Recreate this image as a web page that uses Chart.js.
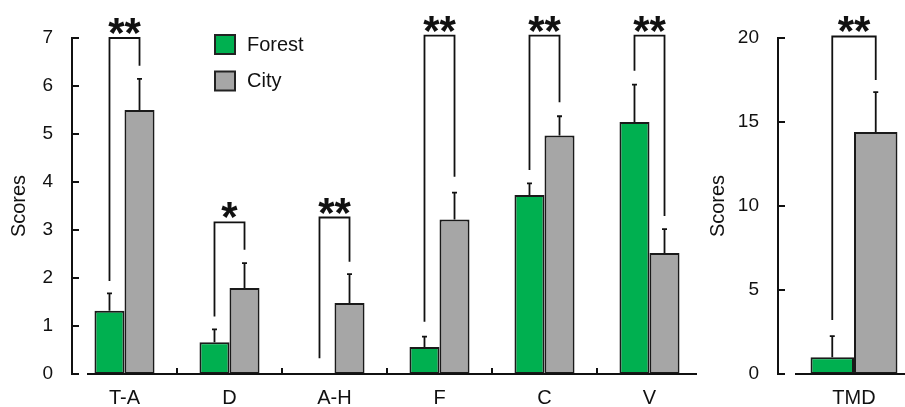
<!DOCTYPE html>
<html><head><meta charset="utf-8">
<script src="https://cdn.jsdelivr.net/npm/chart.js@4.4.0/dist/chart.umd.min.js"></script>
<style>
html,body{margin:0;padding:0;background:#fff;overflow:hidden;}
#wrap{position:relative;width:905px;height:407px;overflow:hidden;background:#fff;}
canvas{position:absolute;top:0;}
</style></head><body>
<div id="wrap">
<canvas id="c1" width="705" height="407" style="left:0px;width:705px;height:407px"></canvas>
<canvas id="c2" width="230" height="407" style="left:700px;width:230px;height:407px"></canvas>
</div>
<script>
// ---- Data (left panel) ----
const categories = ['T-A', 'D', 'A-H', 'F', 'C', 'V'];
const forestValues = [1.32, 0.66, 0, 0.56, 3.73, 5.25];
const forestErrors = [0.36, 0.27, 0, 0.22, 0.24, 0.78];
const cityValues = [5.50, 1.79, 1.48, 3.22, 4.97, 2.52];
const cityErrors = [0.65, 0.52, 0.60, 0.56, 0.40, 0.50];
const sigLabels = ['**', '*', '**', '**', '**', '**'];
const bracketTop = [7.0, 3.16, 3.26, 7.05, 7.05, 7.05];
const bracketLeftEnd = [1.94, 1.20, 0.33, 1.09, 4.25, 6.32];
const bracketRightEnd = [6.42, 2.59, 2.34, 4.11, 5.66, 3.29];
const yTicksLeft = [0, 1, 2, 3, 4, 5, 6, 7];

// ---- Data (right panel) ----
const tmdCategories = ['TMD'];
const tmdForest = [0.99];
const tmdForestErrors = [1.27];
const tmdCity = [14.41];
const tmdCityErrors = [2.37];
const tmdSig = ['**'];
const tmdBracketTop = [20.09];
const tmdBracketLeftEnd = [3.22];
const tmdBracketRightEnd = [17.5];
const yTicksRight = [0, 5, 10, 15, 20];

const seriesNames = ['Forest', 'City'];
const seriesColors = ['#00B050', '#A6A6A6'];

const FONT = "'Liberation Sans', Arial, Helvetica, sans-serif";
const INK = '#111';

const decorPlugin = {
  id: 'decor',
  afterDatasetsDraw(chart, args, opts) {
    const ctx = chart.ctx;
    const xs = chart.scales.x, ys = chart.scales.y;
    const ca = chart.chartArea;
    ctx.save();
    ctx.strokeStyle = INK;
    ctx.lineWidth = 2;
    ctx.lineCap = 'butt';
    const y0 = ys.getPixelForValue(0);
    const yTop = ys.getPixelForValue(ys.max);
    const xl = Math.round(ca.left);
    // y axis with inward ticks
    ctx.beginPath();
    ctx.moveTo(xl, yTop - 1);
    ctx.lineTo(xl, y0 + 1);
    ys.ticks.forEach(t => {
      const p = ys.getPixelForValue(t.value);
      ctx.moveTo(xl - 1, p);
      ctx.lineTo(xl + 7, p);
    });
    ctx.stroke();
    // x axis
    const n = chart.data.labels.length;
    ctx.beginPath();
    ctx.moveTo(ca.left + opts.xGap, y0);
    ctx.lineTo(ca.right - opts.xTrim, y0);
    for (let i = 1; i < n; i++) {
      const bx = (xs.getPixelForValue(i - 1) + xs.getPixelForValue(i)) / 2;
      ctx.moveTo(bx, y0);
      ctx.lineTo(bx, y0 - 6);
    }
    ctx.stroke();

    // error bars
    ctx.lineWidth = 1.8;
    chart.data.datasets.forEach((ds, di) => {
      const meta = chart.getDatasetMeta(di);
      meta.data.forEach((el, i) => {
        const e = ds.errors[i];
        if (!e) return;
        const yv = ys.getPixelForValue(ds.data[i]);
        const ye = ys.getPixelForValue(ds.data[i] + e);
        ctx.beginPath();
        ctx.moveTo(el.x, yv);
        ctx.lineTo(el.x, ye);
        ctx.moveTo(el.x - 2.5, ye);
        ctx.lineTo(el.x + 2.5, ye);
        ctx.stroke();
      });
    });

    // significance brackets
    const b = opts.brackets;
    const m0 = chart.getDatasetMeta(0), m1 = chart.getDatasetMeta(1);
    ctx.fillStyle = INK;
    ctx.font = 'bold 42px ' + FONT;
    ctx.textAlign = 'center';
    ctx.textBaseline = 'alphabetic';
    ctx.lineWidth = 1.8;
    b.top.forEach((t, i) => {
      const xL = m0.data[i].x, xR = m1.data[i].x;
      const yt = ys.getPixelForValue(t);
      ctx.beginPath();
      ctx.moveTo(xL, ys.getPixelForValue(b.left[i]));
      ctx.lineTo(xL, yt);
      ctx.lineTo(xR, yt);
      ctx.lineTo(xR, ys.getPixelForValue(b.right[i]));
      ctx.stroke();
      ctx.fillText(b.labels[i], (xL + xR) / 2, yt + 9);
    });

    // legend
    if (opts.legend) {
      const lg = opts.legend;
      ctx.font = '20px ' + FONT;
      ctx.textAlign = 'left';
      ctx.textBaseline = 'middle';
      chart.data.datasets.forEach((ds, di) => {
        const by = lg.y + di * 36.5;
        ctx.fillStyle = ds.backgroundColor;
        ctx.fillRect(lg.x, by, 20, 19);
        ctx.strokeStyle = '#222';
        ctx.lineWidth = 2;
        ctx.strokeRect(lg.x, by, 20, 19);
        ctx.fillStyle = INK;
        ctx.fillText(ds.label, lg.x + 32, by + 10);
      });
    }
    ctx.restore();
  }
};

function buildChart(id, labels, fVals, fErr, cVals, cErr, yTicks, cfg) {
  const yMax = yTicks[yTicks.length - 1];
  const yStep = yTicks[1] - yTicks[0];
  return new Chart(document.getElementById(id), {
    type: 'bar',
    data: {
      labels: labels,
      datasets: [
        { label: seriesNames[0], data: fVals, errors: fErr, backgroundColor: seriesColors[0],
          borderColor: '#1a1a1a', borderWidth: 2, borderSkipped: false,
          categoryPercentage: cfg.catPct, barPercentage: 1 },
        { label: seriesNames[1], data: cVals, errors: cErr, backgroundColor: seriesColors[1],
          borderColor: '#1a1a1a', borderWidth: 2, borderSkipped: false,
          categoryPercentage: cfg.catPct, barPercentage: 1 }
      ]
    },
    options: {
      responsive: false,
      animation: false,
      devicePixelRatio: 1,
      layout: { padding: { left: 0, right: cfg.padRight, top: 38, bottom: 0 } },
      plugins: {
        legend: { display: false },
        tooltip: { enabled: false },
        decor: { brackets: cfg.brackets, legend: cfg.legend, xGap: cfg.xGap, xTrim: cfg.xTrim }
      },
      scales: {
        x: {
          grid: { display: false, drawTicks: false },
          border: { display: false },
          ticks: { color: INK, font: { family: FONT, size: 20 }, padding: 12, maxRotation: 0 },
          afterFit: s => { s.height = 33; }
        },
        y: {
          min: 0, max: yMax,
          grid: { display: false, drawTicks: false },
          border: { display: false },
          ticks: { stepSize: yStep, color: INK, font: { family: FONT, size: 19 }, padding: 19 },
          title: { display: true, text: 'Scores', color: INK, font: { family: FONT, size: 20 }, padding: { top: cfg.titlePad, bottom: 0 } },
          afterFit: s => { s.width = cfg.yWidth; }
        }
      }
    },
    plugins: [decorPlugin]
  });
}

buildChart('c1', categories, forestValues, forestErrors, cityValues, cityErrors, yTicksLeft, {
  catPct: 0.572, padRight: 3, yWidth: 72, titlePad: 7, xGap: 15, xTrim: 5,
  brackets: { top: bracketTop, left: bracketLeftEnd, right: bracketRightEnd, labels: sigLabels },
  legend: { x: 215, y: 35 }
});

buildChart('c2', tmdCategories, tmdForest, tmdForestErrors, tmdCity, tmdCityErrors, yTicksRight, {
  catPct: 0.572, padRight: 0, yWidth: 78, titlePad: 6, xGap: 17, xTrim: 0,
  brackets: { top: tmdBracketTop, left: tmdBracketLeftEnd, right: tmdBracketRightEnd, labels: tmdSig },
  legend: null
});
</script>
</body></html>
